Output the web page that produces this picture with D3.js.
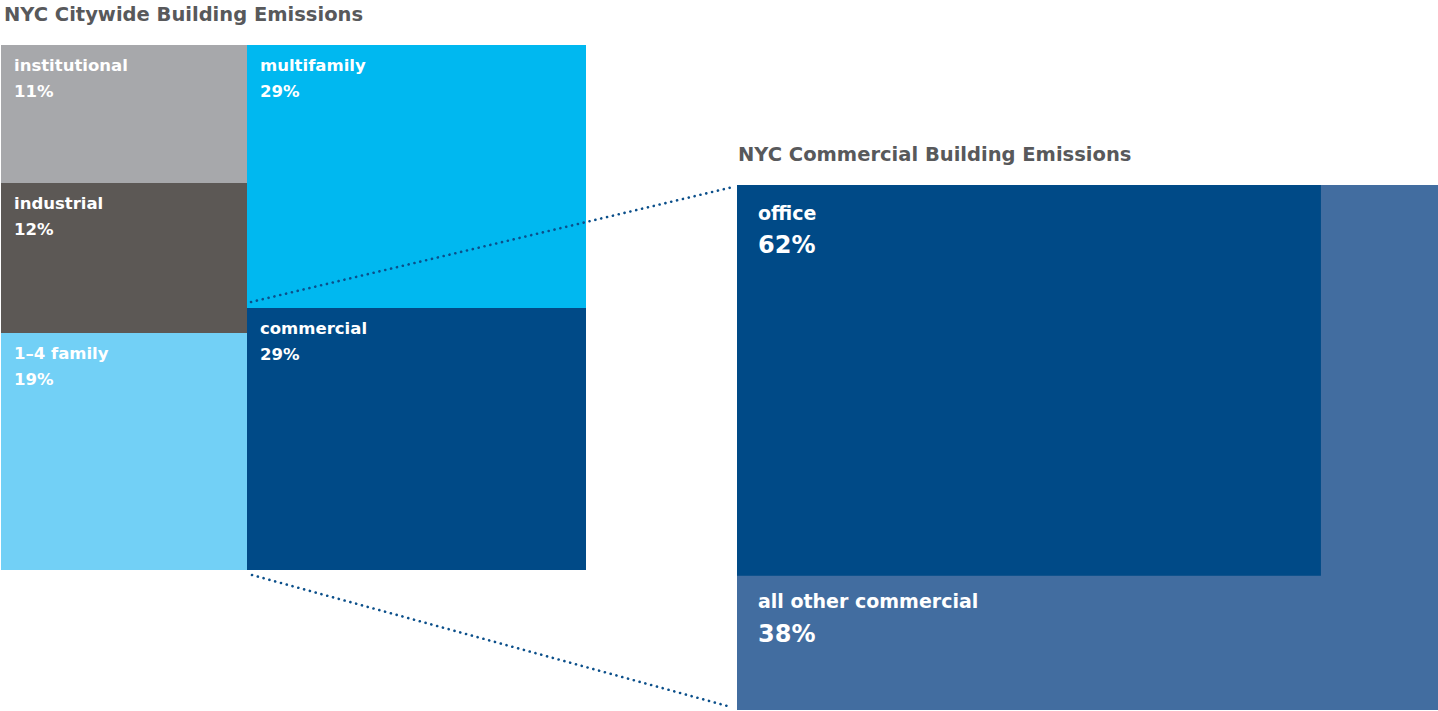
<!doctype html>
<html lang="en">
<head>
    <meta charset="UTF-8">
    <title>NYC Building Emissions</title>
    <script src="https://cdnjs.cloudflare.com/ajax/libs/d3/7.8.5/d3.min.js"></script>
    <style>
        html, body {
            margin: 0;
            padding: 0;
            background: #ffffff;
            overflow: hidden;
        }
        text {
            font-family: "DejaVu Sans", sans-serif;
            font-weight: 700;
        }
        .title { fill: #58595b; font-size: 19.5px; }
        .lbl { fill: #ffffff; }
    </style>
</head>
<body>
<svg id="chart" width="1438" height="711"></svg>
<script>
    // citywide split: two columns, each stacked top to bottom
    const cityColumns = ["left", "right"];
    const cityNames = ["institutional", "industrial", "1–4 family", "multifamily", "commercial"];
    const cityColumnOf = ["left", "left", "left", "right", "right"];
    const cityValues = [11, 12, 19, 29, 29];
    const cityColors = ["#a7a8ab", "#5c5855", "#72d0f6", "#00b8f0", "#004a87"];

    // commercial split
    const commNames = ["office", "all other commercial"];
    const commValues = [62, 38];
    const commColors = ["#004a87", "#426da0"];

    const titles = ["NYC Citywide Building Emissions", "NYC Commercial Building Emissions"];

    const svg = d3.select("#chart");
    const dotColor = "#0b4f8a";

    // ---- left treemap ----
    const left = {x: 1, y: 45, w: 585, h: 525};

    const tree = {
        name: "city",
        children: cityColumns.map(c => ({
            name: c,
            children: cityNames.map((n, i) => ({name: n, value: cityValues[i], color: cityColors[i], col: cityColumnOf[i]}))
                .filter(d => d.col === c)
        }))
    };
    const root = d3.hierarchy(tree).sum(d => d.value || 0);
    d3.treemap()
        .tile(d3.treemapSliceDice)
        .size([left.w, left.h])
        .round(true)(root);

    const gL = svg.append("g").attr("transform", `translate(${left.x},${left.y})`);
    const leaves = gL.selectAll("g.cell")
        .data(root.leaves())
        .enter().append("g")
        .attr("class", "cell")
        .attr("transform", d => `translate(${d.x0},${d.y0})`);
    leaves.append("rect")
        .attr("width", d => d.x1 - d.x0)
        .attr("height", d => d.y1 - d.y0)
        .attr("fill", d => d.data.color);
    leaves.append("text").attr("class", "lbl")
        .attr("x", 13).attr("y", 26)
        .style("font-size", "16.5px")
        .text(d => d.data.name);
    leaves.append("text").attr("class", "lbl")
        .attr("x", 13).attr("y", 52)
        .style("font-size", "16.5px")
        .text(d => d.data.value + "%");

    svg.append("text").attr("class", "title")
        .attr("x", 4).attr("y", 21)
        .text(titles[0]);

    // ---- right chart: office nested in the corner of the commercial box ----
    const right = {x: 737, y: 185, w: 701, h: 525};
    const officeWidthShare = 0.833;
    const total = d3.sum(commValues);
    const wScale = d3.scaleLinear().domain([0, 1]).range([0, right.w]);
    const officeW = wScale(officeWidthShare);
    const officeH = (commValues[0] / total) * right.w * right.h / officeW;
    const hScale = d3.scaleLinear().domain([0, right.h]).range([0, right.h]);

    const gR = svg.append("g").attr("transform", `translate(${right.x},${right.y})`);
    gR.append("rect")
        .attr("width", right.w).attr("height", right.h)
        .attr("fill", commColors[1]);
    gR.append("rect")
        .attr("width", officeW).attr("height", hScale(officeH))
        .attr("fill", commColors[0]);

    gR.append("text").attr("class", "lbl")
        .attr("x", 21).attr("y", 35)
        .style("font-size", "19px")
        .text(commNames[0]);
    gR.append("text").attr("class", "lbl")
        .attr("x", 21).attr("y", 68)
        .style("font-size", "24px")
        .text(commValues[0] + "%");
    gR.append("text").attr("class", "lbl")
        .attr("x", 21).attr("y", hScale(officeH) + 32)
        .style("font-size", "19px")
        .text(commNames[1]);
    gR.append("text").attr("class", "lbl")
        .attr("x", 21).attr("y", hScale(officeH) + 66)
        .style("font-size", "24px")
        .text(commValues[1] + "%");

    svg.append("text").attr("class", "title")
        .attr("x", right.x + 1).attr("y", 161)
        .text(titles[1]);

    // ---- dotted connectors from the commercial cell ----
    const comm = root.leaves().find(d => d.data.name === "commercial");
    const cx = left.x + comm.x0, cyTop = left.y + comm.y0, cyBot = left.y + comm.y1;
    const links = [
        [[cx + 4, cyTop - 6], [right.x - 4, right.y + 2]],
        [[cx + 5, cyBot + 5], [right.x - 6, right.y + right.h - 3]]
    ];
    svg.selectAll("line.link")
        .data(links)
        .enter().append("line")
        .attr("class", "link")
        .attr("x1", d => d[0][0]).attr("y1", d => d[0][1])
        .attr("x2", d => d[1][0]).attr("y2", d => d[1][1])
        .attr("stroke", dotColor)
        .attr("stroke-width", 2.6)
        .attr("stroke-linecap", "round")
        .attr("stroke-dasharray", "0.1 5.9");
</script>
</body>
</html>
